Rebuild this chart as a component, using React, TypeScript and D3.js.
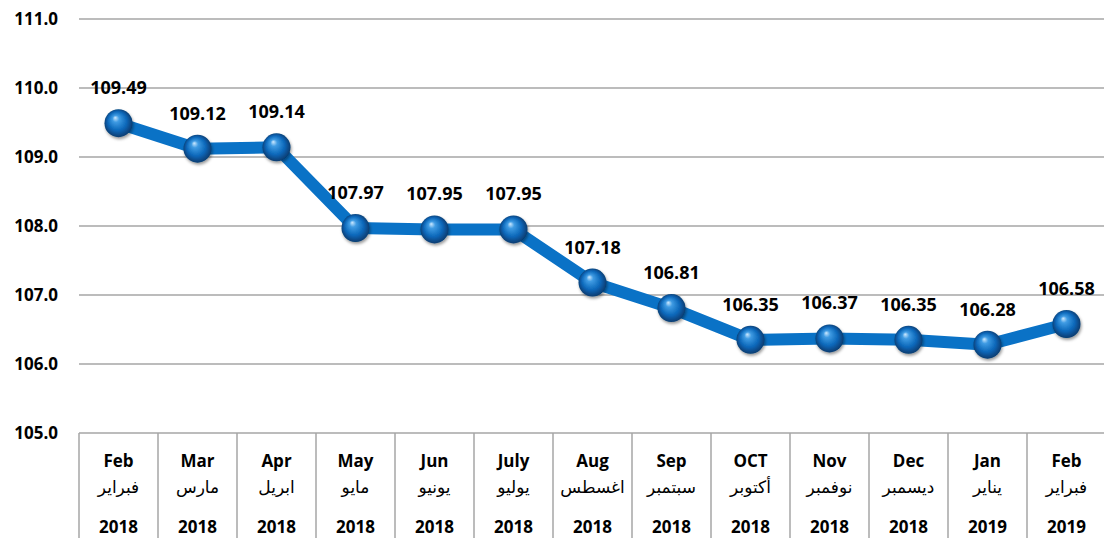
import { useEffect, useRef } from 'react'
import * as d3 from 'd3'

const MONTHS_EN = ['Feb', 'Mar', 'Apr', 'May', 'Jun', 'July', 'Aug', 'Sep', 'OCT', 'Nov', 'Dec', 'Jan', 'Feb']
const MONTHS_AR = ['فبراير', 'مارس', 'ابريل', 'مايو', 'يونيو', 'يوليو', 'اغسطس', 'سبتمبر', 'أكتوبر', 'نوفمبر', 'ديسمبر', 'يناير', 'فبراير']
const YEARS = ['2018', '2018', '2018', '2018', '2018', '2018', '2018', '2018', '2018', '2018', '2018', '2019', '2019']
const VALUES = [109.49, 109.12, 109.14, 107.97, 107.95, 107.95, 107.18, 106.81, 106.35, 106.37, 106.35, 106.28, 106.58]
const Y_TICKS = [105, 106, 107, 108, 109, 110, 111]

const W = 1104
const H = 538
const FONT = '"Open Sans", "Noto Sans", sans-serif'

export default function App() {
  const ref = useRef<SVGSVGElement>(null)

  useEffect(() => {
    const svg = d3.select(ref.current)
    svg.selectAll('*').remove()

    const x = d3.scaleBand<number>().domain(d3.range(VALUES.length)).range([79, 1106]).padding(0)
    const y = d3.scaleLinear().domain([105, 111]).range([433, 19])

    const defs = svg.append('defs')
    const grad = defs.append('radialGradient')
      .attr('id', 'ball')
      .attr('cx', '50%').attr('cy', '50%').attr('r', '55%')
      .attr('fx', '38%').attr('fy', '30%')
    grad.append('stop').attr('offset', '0%').attr('stop-color', '#cfeaff')
    grad.append('stop').attr('offset', '22%').attr('stop-color', '#3f9be3')
    grad.append('stop').attr('offset', '62%').attr('stop-color', '#0a66b8')
    grad.append('stop').attr('offset', '100%').attr('stop-color', '#06325f')

    const shadow = defs.append('filter').attr('id', 'shadow').attr('x', '-50%').attr('y', '-50%').attr('width', '200%').attr('height', '200%')
    shadow.append('feDropShadow').attr('dx', 1).attr('dy', 2).attr('stdDeviation', 1.5).attr('flood-color', '#000').attr('flood-opacity', 0.4)

    // gridlines
    svg.append('g')
      .selectAll('line')
      .data(Y_TICKS.filter((t) => t > 105))
      .join('line')
      .attr('x1', 79).attr('x2', W)
      .attr('y1', (d) => y(d)).attr('y2', (d) => y(d))
      .attr('stroke', '#a6a6a6').attr('stroke-width', 1.5)

    // y labels
    svg.append('g')
      .selectAll('text')
      .data(Y_TICKS)
      .join('text')
      .attr('x', 58)
      .attr('y', (d) => y(d))
      .attr('dy', '0.35em')
      .attr('text-anchor', 'end')
      .attr('font-family', FONT)
      .attr('font-weight', 700)
      .attr('font-size', 17)
      .attr('fill', '#000')
      .text((d) => d.toFixed(1))

    // category table
    const table = svg.append('g')
    table.append('line')
      .attr('x1', 79).attr('x2', W).attr('y1', y(105)).attr('y2', y(105))
      .attr('stroke', '#a6a6a6').attr('stroke-width', 1.5)
    table.selectAll('line.sep')
      .data(d3.range(VALUES.length + 1))
      .join('line')
      .attr('class', 'sep')
      .attr('x1', (i) => 79 + i * x.bandwidth()).attr('x2', (i) => 79 + i * x.bandwidth())
      .attr('y1', y(105)).attr('y2', H)
      .attr('stroke', '#a6a6a6').attr('stroke-width', 1.5)

    const cell = table.selectAll('g.cell')
      .data(VALUES.map((_, i) => i))
      .join('g')
      .attr('class', 'cell')
      .attr('transform', (i) => `translate(${(x(i) ?? 0) + x.bandwidth() / 2},0)`)
    cell.append('text')
      .attr('y', 467).attr('text-anchor', 'middle')
      .attr('font-family', FONT).attr('font-weight', 700).attr('font-size', 17)
      .text((i) => MONTHS_EN[i])
    cell.append('text')
      .attr('y', 493).attr('text-anchor', 'middle')
      .attr('font-family', '"DejaVu Sans", "Noto Sans", sans-serif').attr('font-size', 17)
      .attr('direction', 'rtl')
      .text((i) => MONTHS_AR[i])
    cell.append('text')
      .attr('y', 533).attr('text-anchor', 'middle')
      .attr('font-family', FONT).attr('font-weight', 700).attr('font-size', 17)
      .text((i) => YEARS[i])

    const cx = (i: number) => (x(i) ?? 0) + x.bandwidth() / 2

    // line
    const line = d3.line<number>().x((_, i) => cx(i)).y((d) => y(d))
    svg.append('path')
      .datum(VALUES)
      .attr('d', line)
      .attr('fill', 'none')
      .attr('stroke', '#0a72c6')
      .attr('stroke-width', 12)
      .attr('stroke-linejoin', 'round')

    // markers
    svg.append('g')
      .selectAll('circle')
      .data(VALUES)
      .join('circle')
      .attr('cx', (_, i) => cx(i))
      .attr('cy', (d) => y(d))
      .attr('r', 14)
      .attr('fill', 'url(#ball)')
      .attr('filter', 'url(#shadow)')

    // data labels
    svg.append('g')
      .selectAll('text')
      .data(VALUES)
      .join('text')
      .attr('x', (_, i) => cx(i))
      .attr('y', (d) => y(d) - 29)
      .attr('text-anchor', 'middle')
      .attr('font-family', FONT)
      .attr('font-weight', 700)
      .attr('font-size', 18)
      .attr('fill', '#000')
      .text((d) => d.toFixed(2))
  }, [])

  return (
    <svg
      ref={ref}
      width={W}
      height={H}
      style={{ position: 'absolute', left: 0, top: 0, background: '#fff' }}
    />
  )
}
